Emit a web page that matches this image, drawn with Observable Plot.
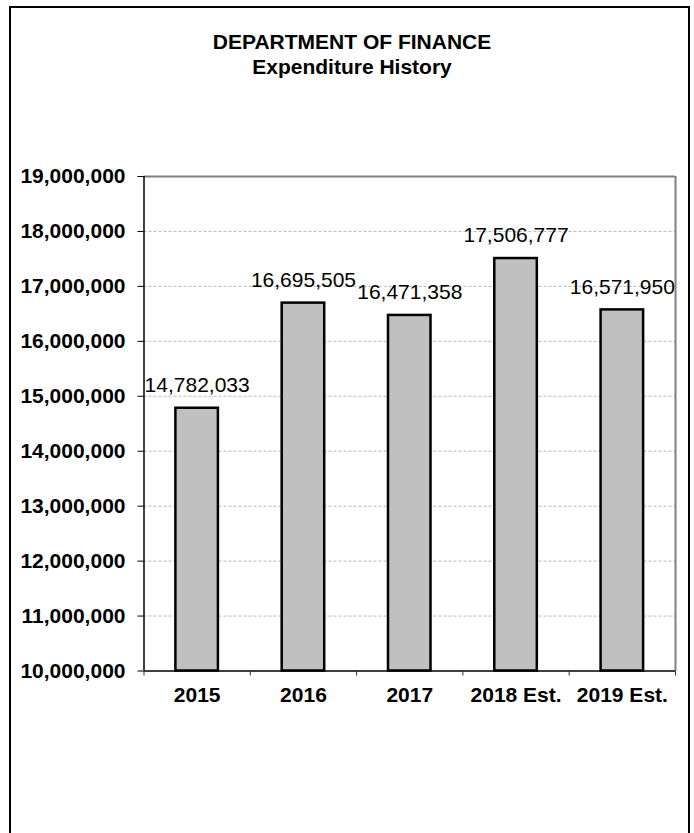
<!DOCTYPE html>
<html>
<head>
<meta charset="utf-8">
<script src="https://cdn.jsdelivr.net/npm/d3@7"></script>
<script src="https://cdn.jsdelivr.net/npm/@observablehq/plot@0.6"></script>
<style>
  html, body { margin: 0; padding: 0; background: white; }
  #wrap { position: relative; width: 694px; height: 833px; overflow: hidden; background: white;
          font-family: "Liberation Sans", Arial, sans-serif; }
  #box { position: absolute; left: 9px; top: 6px; width: 677px; height: 900px;
         border: 2px solid black; box-sizing: content-box; pointer-events: none; z-index: 3; }
  #title { position: absolute; left: 12px; top: 30px; width: 680px; text-align: center;
           font-weight: bold; font-size: 21px; line-height: 24.5px; color: black; z-index: 2; }
  #chart { position: absolute; left: 0; top: 0; z-index: 1; }
</style>
</head>
<body>
<div id="wrap">
  <div id="title"></div>
  <div id="chart"></div>
  <div id="box"></div>
</div>
<script>
const titleText = "DEPARTMENT OF FINANCE";
const subtitleText = "Expenditure History";
const categories = ["2015", "2016", "2017", "2018 Est.", "2019 Est."];
const expenditures = [14782033, 16695505, 16471358, 17506777, 16571950];
const yTicks = [10000000, 11000000, 12000000, 13000000, 14000000, 15000000, 16000000, 17000000, 18000000, 19000000];

document.getElementById("title").innerHTML = titleText + "<br>" + subtitleText;

const data = categories.map((c, i) => ({i, category: c, value: expenditures[i]}));
const positions = categories.map((c, i) => i);
const boundaries = categories.map((c, i) => i - 0.5).concat([categories.length - 0.5]);
const yMin = yTicks[0], yMax = yTicks[yTicks.length - 1];
const fmt = d3.format(",");

const chart = Plot.plot({
  width: 694,
  height: 833,
  marginLeft: 143.5,
  marginRight: 19,
  marginTop: 176,
  marginBottom: 162.5,
  style: {fontFamily: "'Liberation Sans', Arial, sans-serif", background: "transparent", overflow: "visible", color: "black"},
  x: {type: "linear", domain: [boundaries[0], boundaries[boundaries.length - 1]], label: null},
  y: {domain: [yMin, yMax], label: null},
  marks: [
    Plot.ruleY(yTicks.slice(1, -1), {stroke: "#b8b8b8", strokeWidth: 1, strokeDasharray: "3,2"}),
    Plot.rect(data, {
      x1: d => d.i - 0.2, x2: d => d.i + 0.2,
      y1: () => yMin, y2: "value",
      fill: "#c0c0c0", stroke: "black", strokeWidth: 2.5
    }),
    Plot.text(data, {x: "i", y: "value", text: d => fmt(d.value), dy: -23, fontSize: 21, fill: "black"}),
    Plot.ruleY([yMax], {stroke: "#808080", strokeWidth: 2}),
    Plot.ruleX([boundaries[boundaries.length - 1]], {stroke: "#808080", strokeWidth: 2}),
    Plot.ruleX([boundaries[0]], {stroke: "black", strokeWidth: 1.5}),
    Plot.ruleY([yMin], {stroke: "black", strokeWidth: 1.5}),
    Plot.axisY({ticks: yTicks, tickFormat: fmt, tickSize: 6, tickPadding: 12.5, fontSize: 21, fontWeight: "bold", label: null, stroke: "black"}),
    Plot.axisX({ticks: boundaries, tickFormat: () => "", tickSize: 5, label: null, stroke: "#333"}),
    Plot.axisX({ticks: positions, tickFormat: i => categories[i], tickSize: 0, tickPadding: 16, fontSize: 21, fontWeight: "bold", label: null})
  ]
});
document.getElementById("chart").appendChild(chart);
</script>
</body>
</html>
